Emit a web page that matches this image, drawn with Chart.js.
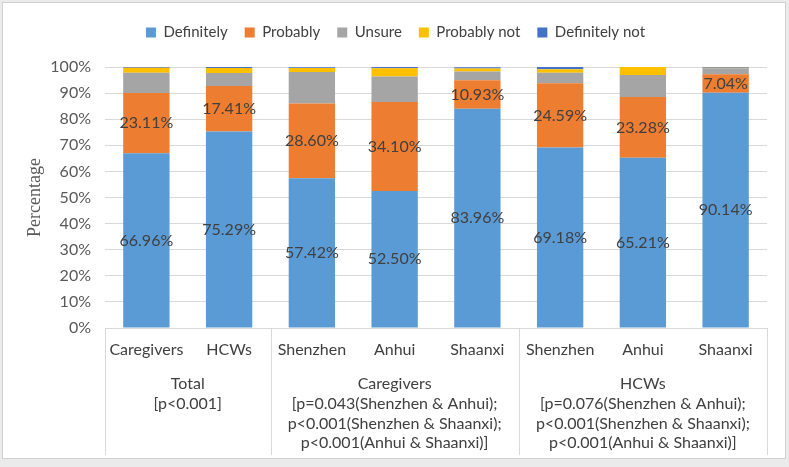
<!DOCTYPE html>
<html>
<head>
<meta charset="utf-8">
<script src="https://cdn.jsdelivr.net/npm/chart.js@4/dist/chart.umd.min.js"></script>
<style>
  html, body { margin: 0; padding: 0; background: #ebebeb; }
  #wrap { width: 789px; height: 467px; position: relative; }
</style>
</head>
<body>
<div id="wrap"><canvas id="chart" width="789" height="467"></canvas></div>
<script>
// categories and series (percent)
const categories = ['Caregivers', 'HCWs', 'Shenzhen', 'Anhui', 'Shaanxi', 'Shenzhen', 'Anhui', 'Shaanxi'];
const definitely = [66.96, 75.29, 57.42, 52.50, 83.96, 69.18, 65.21, 90.14];
const probably = [23.11, 17.41, 28.60, 34.10, 10.93, 24.59, 23.28, 7.04];
const unsure = [7.7, 5.0, 12.1, 9.8, 3.4, 4.0, 8.4, 2.3];
const probablyNot = [1.9, 1.9, 1.5, 3.1, 1.1, 1.4, 3.1, 0.2];
const definitelyNot = [0.3, 0.4, 0.3, 0.5, 0.5, 0.8, 0.0, 0.3];

// outer category groups
const groupNames = ['Total', 'Caregivers', 'HCWs'];
const groupSizes = [2, 3, 3];
const groupNotes = [
    ['[p<0.001]'],
    ['[p=0.043(Shenzhen & Anhui);', 'p<0.001(Shenzhen & Shaanxi);', 'p<0.001(Anhui & Shaanxi)]'],
    ['[p=0.076(Shenzhen & Anhui);', 'p<0.001(Shenzhen & Shaanxi);', 'p<0.001(Anhui & Shaanxi)]']
];

const yTicks = [0, 10, 20, 30, 40, 50, 60, 70, 80, 90, 100];

const FONT = 'Lato, "Open Sans", sans-serif';
const TEXT = '#404040';
const GRID = '#d9d9d9';

// white panel with thin border, like the Excel chart area
const framePlugin = {
    id: 'frame',
    beforeDraw(chart) {
        const ctx = chart.ctx;
        ctx.save();
        ctx.fillStyle = '#ebebeb';
        ctx.fillRect(0, 0, chart.width, chart.height);
        ctx.fillStyle = '#ffffff';
        ctx.fillRect(2, 2, chart.width - 5, chart.height - 10);
        ctx.strokeStyle = '#d0d0d0';
        ctx.lineWidth = 1;
        ctx.strokeRect(2.5, 2.5, chart.width - 6, chart.height - 11);
        ctx.restore();
    }
};

// extra space between legend and plot
const legendGap = {
    id: 'legendGap',
    afterInit(chart) {
        const legend = chart.legend;
        if (!legend) return;
        const fit = legend.fit;
        legend.fit = function () {
            fit.call(this);
            this.height += 17;
        };
    }
};

// percent labels inside the first two segments
const valueLabels = {
    id: 'valueLabels',
    afterDatasetsDraw(chart) {
        const ctx = chart.ctx;
        ctx.save();
        ctx.font = '16px ' + FONT;
        ctx.fillStyle = TEXT;
        ctx.textAlign = 'center';
        ctx.textBaseline = 'middle';
        [0, 1].forEach(di => {
            const meta = chart.getDatasetMeta(di);
            meta.data.forEach((bar, i) => {
                const v = chart.data.datasets[di].data[i];
                ctx.fillText(v.toFixed(2) + '%', bar.x, (bar.y + bar.base) / 2);
            });
        });
        ctx.restore();
    }
};

// multi-level category axis: separators and group captions
const groupAxis = {
    id: 'groupAxis',
    afterDraw(chart) {
        const ctx = chart.ctx;
        const x = chart.scales.x;
        const area = chart.chartArea;
        const step = x.getPixelForValue(1) - x.getPixelForValue(0);
        const bottom = area.bottom + 127;
        ctx.save();
        ctx.strokeStyle = GRID;
        ctx.lineWidth = 1;
        ctx.beginPath();
        ctx.moveTo(area.left, area.bottom + 0.5);
        ctx.lineTo(area.right, area.bottom + 0.5);
        let idx = 0;
        const edges = [area.left];
        groupSizes.forEach(n => {
            idx += n;
            edges.push(x.getPixelForValue(idx - 1) + step / 2);
        });
        edges.forEach(e => {
            const px = Math.round(e) + 0.5;
            ctx.moveTo(px, area.bottom);
            ctx.lineTo(px, bottom);
        });
        ctx.stroke();

        ctx.font = '16px ' + FONT;
        ctx.fillStyle = TEXT;
        ctx.textAlign = 'center';
        ctx.textBaseline = 'middle';
        groupNames.forEach((name, g) => {
            const cx = (edges[g] + edges[g + 1]) / 2;
            const lines = [name].concat(groupNotes[g]);
            lines.forEach((t, k) => {
                ctx.fillText(t, cx, area.bottom + 56 + k * 19.7);
            });
        });
        ctx.restore();
    }
};

function makeSet(label, data, color) {
    return {
        label: label,
        data: data,
        backgroundColor: color,
        borderWidth: 0,
        barPercentage: 0.56,
        categoryPercentage: 1.0
    };
}

const ctx = document.getElementById('chart').getContext('2d');
new Chart(ctx, {
    type: 'bar',
    data: {
        labels: categories,
        datasets: [
            makeSet('Definitely', definitely, '#5B9BD5'),
            makeSet('Probably', probably, '#ED7D31'),
            makeSet('Unsure', unsure, '#A5A5A5'),
            makeSet('Probably not', probablyNot, '#FFC000'),
            makeSet('Definitely not', definitelyNot, '#4472C4')
        ]
    },
    options: {
        responsive: false,
        animation: false,
        devicePixelRatio: 1,
        layout: { padding: { top: 8, right: 22, bottom: 12, left: 24 } },
        scales: {
            x: {
                stacked: true,
                grid: { display: false, drawTicks: false },
                border: { display: false },
                ticks: {
                    color: TEXT,
                    font: { family: FONT, size: 16 },
                    padding: 12,
                    maxRotation: 0,
                    autoSkip: false
                },
                afterFit(scale) { scale.height = 127; }
            },
            y: {
                stacked: true,
                min: 0,
                max: 100,
                afterBuildTicks(scale) {
                    scale.ticks = yTicks.map(v => ({ value: v }));
                },
                grid: { color: GRID, drawTicks: false },
                border: { display: false },
                ticks: {
                    color: '#595959',
                    font: { family: FONT, size: 16 },
                    padding: 14,
                    callback: v => v + '%'
                },
                title: {
                    display: true,
                    text: 'Percentage',
                    color: '#595959',
                    font: { family: '"Liberation Serif", "DejaVu Serif", serif', size: 18 },
                    padding: { top: 0, bottom: 4 }
                },
                afterFit(scale) { scale.width = 81; }
            }
        },
        plugins: {
            legend: {
                position: 'top',
                labels: {
                    color: TEXT,
                    font: { family: FONT, size: 15 },
                    boxWidth: 10,
                    boxHeight: 10,
                    padding: 17
                }
            },
            tooltip: { enabled: false }
        }
    },
    plugins: [framePlugin, legendGap, valueLabels, groupAxis]
});
</script>
</body>
</html>
